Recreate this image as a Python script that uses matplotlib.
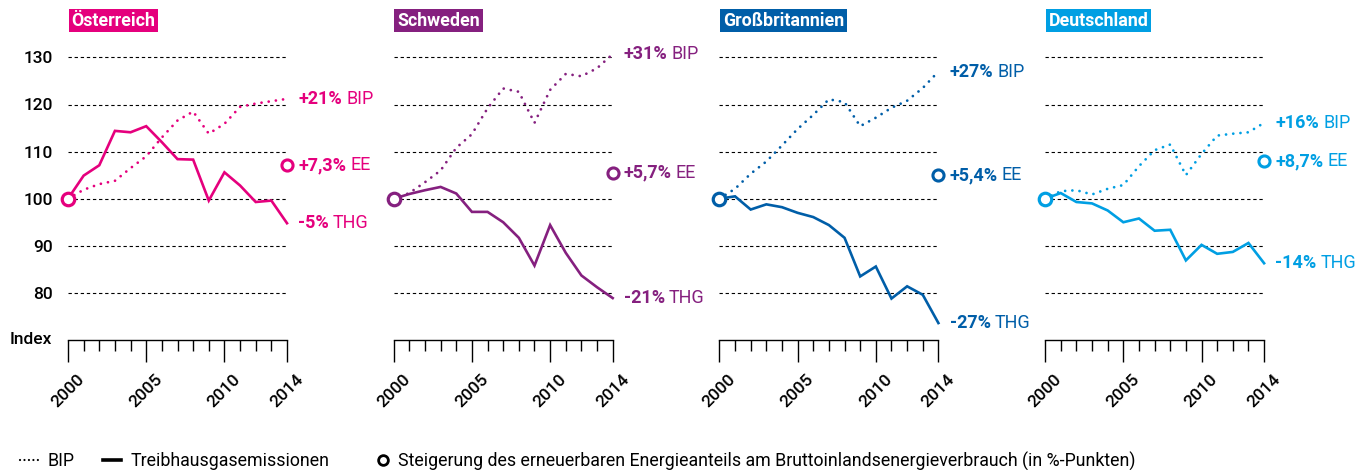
import matplotlib
matplotlib.use("Agg")
import matplotlib.pyplot as plt
from matplotlib.lines import Line2D
from matplotlib.ticker import FixedLocator, MultipleLocator

plt.rcParams['font.family'] = ['Roboto', 'DejaVu Sans']

years = list(range(2000, 2015))
countries = ["Österreich", "Schweden", "Großbritannien", "Deutschland"]
colors = ["#E5007D", "#85207F", "#005EA8", "#009FE3"]

# BIP index (2000 = 100)
bip = [
    [100, 101.9, 103.1, 103.8, 106.5, 109.0, 113.0, 116.6, 118.5, 113.8, 115.9, 119.5, 120.2, 120.7, 121.2],
    [100, 101.2, 103.5, 106.0, 110.8, 113.7, 119.2, 123.4, 122.7, 116.1, 123.1, 126.5, 126.0, 127.7, 130.7],
    [100, 102.1, 105.3, 107.9, 111.3, 114.8, 117.8, 121.1, 120.5, 115.4, 117.2, 119.3, 120.8, 123.5, 127.0],
    [100, 101.6, 101.8, 100.9, 102.1, 102.9, 106.9, 110.3, 111.5, 105.0, 109.5, 113.4, 113.8, 114.1, 116.1],
]
# Treibhausgasemissionen index (2000 = 100)
thg = [
    [100, 104.9, 107.1, 114.4, 114.1, 115.4, 112.0, 108.4, 108.3, 99.6, 105.6, 102.8, 99.3, 99.6, 94.8],
    [100, 101.0, 101.8, 102.5, 101.1, 97.2, 97.2, 95.0, 91.7, 85.8, 94.4, 88.5, 83.7, 81.2, 78.9],
    [100, 100.5, 97.7, 98.8, 98.2, 97.0, 96.1, 94.4, 91.7, 83.5, 85.6, 78.8, 81.4, 79.6, 73.6],
    [100, 101.2, 99.3, 99.0, 97.5, 95.0, 95.8, 93.2, 93.4, 86.9, 90.2, 88.3, 88.7, 90.6, 86.3],
]
# erneuerbarer Energieanteil: circle position in 2014 (index scale)
ee_index = [107.1, 105.5, 105.0, 108.0]
bip_txt = ["+21%", "+31%", "+27%", "+16%"]
ee_txt = ["+7,3%", "+5,7%", "+5,4%", "+8,7%"]
thg_txt = ["-5%", "-21%", "-27%", "-14%"]

grid_vals = [80, 90, 100, 110, 120, 130]
major_years = [2000, 2005, 2010, 2014]

W, H = 1368, 470
fig = plt.figure(figsize=(W / 100, H / 100), dpi=100)

ymin, ymax = 70, 134
ax_h = (ymax - ymin) * 4.71

for i, name in enumerate(countries):
    c = colors[i]
    left = 68 + i * 325.7
    ax = fig.add_axes([left / W, (H - 340) / H, 219 / W, ax_h / H])
    ax.set_xlim(2000, 2014)
    ax.set_ylim(ymin, ymax)
    for s in ['top', 'right', 'left']:
        ax.spines[s].set_visible(False)
    ax.spines['bottom'].set_linewidth(1.0)

    ax.hlines(grid_vals, 2000, 2014, colors='black', linewidth=0.8,
              linestyles=(0, (3, 2.5)), zorder=1)

    ax.plot(years, thg[i], color=c, lw=1.9, solid_joinstyle='miter', clip_on=False, zorder=3)
    ax.plot(years, bip[i], color=c, lw=2.0, linestyle=(0, (0.01, 2.6)),
            dash_capstyle='round', clip_on=False, zorder=3)
    ax.plot([2000], [100], 'o', ms=9, mfc='white', mec=c, mew=2.3, clip_on=False, zorder=5)
    ax.plot([2014], [ee_index[i]], 'o', ms=8, mfc='white', mec=c, mew=2.2, clip_on=False, zorder=5)

    # end labels
    for val, num, word in [(bip[i][-1], bip_txt[i], "BIP"),
                           (ee_index[i], ee_txt[i], "EE"),
                           (thg[i][-1], thg_txt[i], "THG")]:
        t = ax.annotate(num, xy=(2014, val), xytext=(8, 0), textcoords='offset points',
                        ha='left', va='center', color=c, fontsize=13, fontweight='bold',
                        annotation_clip=False)
        ax.annotate(word, xy=(1, 0), xycoords=t, xytext=(3, 0), textcoords='offset points',
                    ha='left', va='bottom', color=c, fontsize=13, annotation_clip=False)

    # title box
    ax.annotate(name, xy=(2000, ymax), xytext=(2.5, 13), textcoords='offset points',
                ha='left', va='center', color='white', fontsize=12.8, fontweight='bold',
                bbox=dict(facecolor=c, edgecolor='none', pad=2.0), annotation_clip=False)

    ax.xaxis.set_major_locator(FixedLocator(major_years))
    ax.xaxis.set_minor_locator(MultipleLocator(1))
    ax.tick_params(axis='x', which='major', direction='out', length=16, width=1.0, pad=7)
    ax.tick_params(axis='x', which='minor', direction='out', length=8, width=1.0)
    ax.set_xticklabels([str(y) for y in major_years], rotation=45, ha='center',
                       fontsize=12.5, fontweight='medium')

    ax.set_yticks(grid_vals)
    ax.tick_params(axis='y', length=0, pad=11)
    if i == 0:
        ax.set_yticklabels([str(v) for v in grid_vals], fontsize=12.5, fontweight='medium')
        ax.text(-0.073, ymin, "Index", transform=ax.get_yaxis_transform(),
                ha='right', va='center', fontsize=12.5, fontweight='medium')
    else:
        ax.set_yticklabels([])

# legend: three separate entries
legend_items = [
    (Line2D([], [], color='black', lw=1.6, linestyle=(0, (0.01, 2.0)), dash_capstyle='round'),
     "BIP", 20, 1.0),
    (Line2D([], [], color='black', lw=2.6), "Treibhausgasemissionen", 103, 1.0),
    (Line2D([], [], color='black', marker='o', ms=7, mfc='white', mew=2.0, linestyle='none'),
     "Steigerung des erneuerbaren Energieanteils am Bruttoinlandsenergieverbrauch (in %-Punkten)",
     378, 0.6),
]
for handle, label, xpx, hl in legend_items:
    fig.legend([handle], [label], loc='center left', bbox_to_anchor=(xpx / W, 1 - 461 / H),
               frameon=False, fontsize=12.8, handlelength=hl, handletextpad=0.55,
               borderaxespad=0, borderpad=0)

fig.savefig("out.png", dpi=100)
